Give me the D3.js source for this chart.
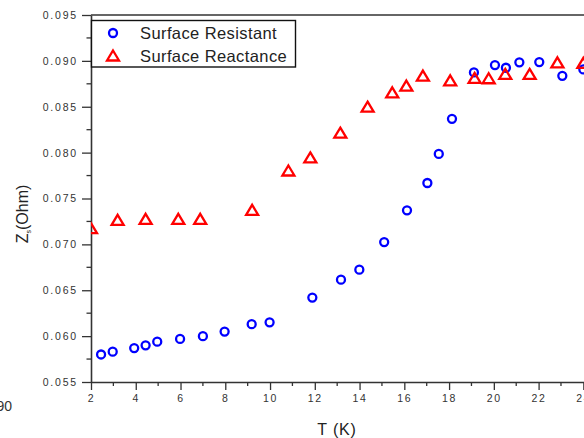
<!DOCTYPE html>
<html>
<head>
<meta charset="utf-8">
<script src="https://cdn.jsdelivr.net/npm/d3@7"></script>
<style>
  html, body { margin: 0; padding: 0; background: #fff; }
  svg { display: block; }
</style>
</head>
<body>
<div id="chart"></div>
<script>
// Surface impedance vs temperature
const resistT = [2.45, 2.97, 3.93, 4.44, 4.96, 5.98, 7.0, 7.97, 9.18, 9.98, 11.89,
  13.17, 13.99, 15.1, 16.12, 17.03, 17.54, 18.13, 19.11, 20.05, 20.54, 21.14, 22.03, 23.06, 24.0];
const resistZ = [0.0580, 0.0583, 0.0587, 0.0590, 0.0594, 0.0597, 0.0600, 0.0605, 0.0613, 0.0615, 0.0642,
  0.06615, 0.06724, 0.07025, 0.07371, 0.07669, 0.07986, 0.08368, 0.08874, 0.08954, 0.08925, 0.08984, 0.08987, 0.08837, 0.08907];

const reactT = [2.0, 3.19, 4.44, 5.9, 6.88, 9.2, 10.82, 11.8, 13.14, 14.36, 15.46, 16.09,
  16.83, 18.05, 19.14, 19.77, 20.51, 21.6, 22.84, 24.0];
const reactZ = [0.07171, 0.07262, 0.07273, 0.07273, 0.07273, 0.07371, 0.0780, 0.07942, 0.08212, 0.08496, 0.08652, 0.08725,
  0.08834, 0.08783, 0.08809, 0.08805, 0.08853, 0.08853, 0.08979, 0.08973];

const xTicks = [2, 4, 6, 8, 10, 12, 14, 16, 18, 20, 22, 24];
const yTicks = [0.055, 0.060, 0.065, 0.070, 0.075, 0.080, 0.085, 0.090, 0.095];
const seriesNames = ['Surface Resistant', 'Surface Reactance'];

const CFG = {
  width: 584,
  height: 438,
  left: 91,
  top: 15,
  bottom: 382,
  pxPerK: 22.38,
  font: '"Liberation Sans", Arial, Helvetica, sans-serif',
  axisColor: '#333',
  blue: '#0000ff',
  red: '#ff0000',
};

const svg = d3.select('#chart').append('svg')
  .attr('width', CFG.width).attr('height', CFG.height);

// plot is wider than the picture: the right part is cut off
const x = d3.scaleLinear().domain([2, 26]).range([CFG.left, CFG.left + 24 * CFG.pxPerK]);
const y = d3.scaleLinear().domain([0.055, 0.095]).range([CFG.bottom, CFG.top]);

svg.append('clipPath').attr('id', 'plotclip')
  .append('rect')
  .attr('x', CFG.left).attr('y', CFG.top)
  .attr('width', CFG.width).attr('height', CFG.bottom - CFG.top);

// Axes
const xAxis = d3.axisBottom(x).tickValues(xTicks).tickSize(8).tickSizeOuter(0).tickPadding(5);
const yAxis = d3.axisLeft(y).tickValues(yTicks).tickSize(9).tickSizeOuter(0).tickPadding(4)
  .tickFormat(d3.format('.3f'));

const gx = svg.append('g').attr('transform', `translate(0,${CFG.bottom})`).call(xAxis);
const gy = svg.append('g').attr('transform', `translate(${CFG.left},0)`).call(yAxis);

// minor ticks
const xMinor = d3.range(3, 26, 2);
gx.selectAll('.minor').data(xMinor).enter().append('line')
  .attr('class', 'minor')
  .attr('x1', d => x(d)).attr('x2', d => x(d))
  .attr('y1', 0).attr('y2', 4);
const yMinor = d3.range(0, 8).map(i => 0.0575 + i * 0.005);
gy.selectAll('.minor').data(yMinor).enter().append('line')
  .attr('class', 'minor')
  .attr('x1', 0).attr('x2', -4.5)
  .attr('y1', d => y(d)).attr('y2', d => y(d));

for (const g of [gx, gy]) {
  g.selectAll('path.domain').attr('stroke', CFG.axisColor).attr('stroke-width', 1.6);
  g.selectAll('line').attr('stroke', CFG.axisColor).attr('stroke-width', 1.3);
  g.selectAll('text')
    .attr('fill', '#333')
    .attr('font-family', CFG.font)
    .attr('font-size', 10.5)
    .attr('letter-spacing', 1.8);
}

// top frame line (no ticks)
svg.append('line')
  .attr('x1', CFG.left).attr('y1', CFG.top)
  .attr('x2', CFG.width).attr('y2', CFG.top)
  .attr('stroke', CFG.axisColor).attr('stroke-width', 1.6);

// Axis titles
svg.append('text')
  .attr('x', 337).attr('y', 435)
  .attr('text-anchor', 'middle')
  .attr('font-family', CFG.font).attr('font-size', 16)
  .attr('letter-spacing', 0.8)
  .attr('fill', '#222')
  .text('T (K)');

const yTitle = svg.append('text')
  .attr('transform', 'translate(28,214) rotate(-90)')
  .attr('text-anchor', 'middle')
  .attr('font-family', CFG.font).attr('font-size', 16)
  .attr('fill', '#222');
yTitle.append('tspan').text('Z');
yTitle.append('tspan').attr('font-size', 7).attr('dy', 3).text('s');
yTitle.append('tspan').attr('dy', -3).text('(Ohm)');

// stray label fragment at lower left
svg.append('text')
  .attr('x', 12).attr('y', 411)
  .attr('text-anchor', 'end')
  .attr('font-family', CFG.font).attr('font-size', 14)
  .attr('fill', '#333')
  .text('90');

// Markers
const triPath = 'M0,-5.5L6,4.5L-6,4.5Z';
const plot = svg.append('g').attr('clip-path', 'url(#plotclip)');

plot.selectAll('.res').data(d3.zip(resistT, resistZ)).enter().append('circle')
  .attr('class', 'res')
  .attr('cx', d => x(d[0])).attr('cy', d => y(d[1]))
  .attr('r', 4)
  .attr('fill', 'none').attr('stroke', CFG.blue).attr('stroke-width', 2.3);

plot.selectAll('.rea').data(d3.zip(reactT, reactZ)).enter().append('path')
  .attr('class', 'rea')
  .attr('transform', d => `translate(${x(d[0])},${y(d[1])})`)
  .attr('d', triPath)
  .attr('fill', 'none').attr('stroke', CFG.red).attr('stroke-width', 2.3)
  .attr('stroke-linejoin', 'miter');

// Legend
const legend = svg.append('g');
legend.append('rect')
  .attr('x', 91.5).attr('y', 20.5)
  .attr('width', 204).attr('height', 46.5)
  .attr('fill', '#fff').attr('stroke', '#111').attr('stroke-width', 1.4);

legend.append('circle')
  .attr('cx', 113).attr('cy', 33).attr('r', 4)
  .attr('fill', 'none').attr('stroke', CFG.blue).attr('stroke-width', 2.3);
legend.append('path')
  .attr('transform', 'translate(113,56)')
  .attr('d', triPath)
  .attr('fill', 'none').attr('stroke', CFG.red).attr('stroke-width', 2.3);

seriesNames.forEach((name, i) => {
  legend.append('text')
    .attr('x', 140).attr('y', 38.5 + i * 23)
    .attr('font-family', CFG.font).attr('font-size', 16.5)
    .attr('letter-spacing', 0.4)
    .attr('fill', '#222')
    .text(name);
});
</script>
</body>
</html>
